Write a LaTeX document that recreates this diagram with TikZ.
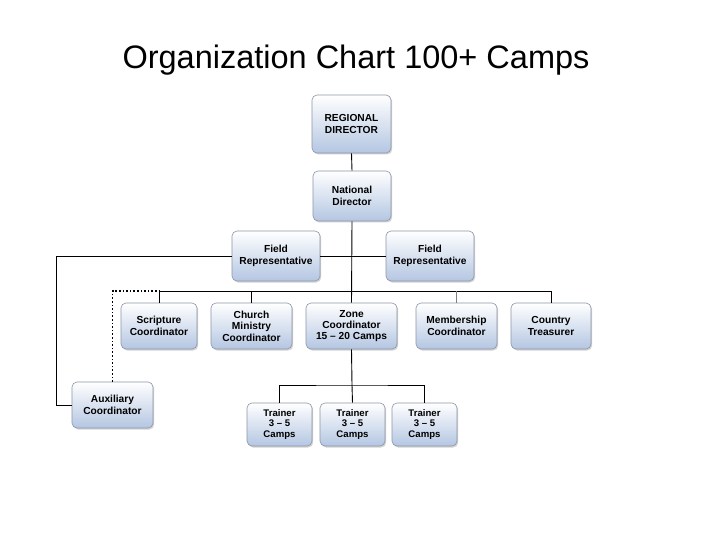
\documentclass[tikz,border=0pt]{standalone}
\usepackage{fontspec}
\setmainfont{Liberation Sans}
\newfontfamily\boxfont[Ligatures=TeX]{Liberation Sans Bold}
\usetikzlibrary{shadows}
\definecolor{boxbot}{RGB}{180,198,226}
\definecolor{boxline}{RGB}{140,150,168}
\tikzset{
  orgbox/.style={draw=boxline, line width=0.6pt, rounded corners=5pt,
    top color=white, bottom color=boxbot, align=center,
    font=\boxfont\fontsize{10.2}{11.4}\selectfont, inner sep=1pt,
    drop shadow={opacity=0.35, shadow xshift=1.2pt, shadow yshift=-1.5pt}},
  conn/.style={line width=0.9pt, black},
  dotconn/.style={line width=1.6pt, black, dotted}
}
\begin{document}
\begin{tikzpicture}[x=1pt,y=-1pt]
\useasboundingbox[fill=white] (0,0) rectangle (720,540);
\node[font=\fontsize{32.5}{36}\selectfont] (title) at (356,60) {Organization Chart 100+ Camps};

\node[orgbox, minimum width=79pt, minimum height=58pt] (rd) at (351.5,124) {REGIONAL\\DIRECTOR};
\node[orgbox, minimum width=78pt, minimum height=50pt] (nd) at (352,196) {National\\Director};
\node[orgbox, minimum width=88pt, minimum height=50pt] (frl) at (276,256) {Field\\Representative};
\node[orgbox, minimum width=88pt, minimum height=50pt] (frr) at (430,256) {Field\\Representative};
\node[orgbox, minimum width=76pt, minimum height=46pt] (sc) at (159,326) {Scripture\\Coordinator};
\node[orgbox, minimum width=81pt, minimum height=46pt] (cm) at (251.5,326) {Church\\Ministry\\Coordinator};
\node[orgbox, minimum width=91pt, minimum height=46pt] (zc) at (351.5,326) {Zone\\Coordinator\\15 – 20 Camps};
\node[orgbox, minimum width=81pt, minimum height=46pt] (mc) at (456.5,326) {Membership\\Coordinator};
\node[orgbox, minimum width=80pt, minimum height=46pt] (ct) at (551,326) {Country\\Treasurer};
\node[orgbox, minimum width=81pt, minimum height=46pt] (ac) at (112.5,405) {Auxiliary\\Coordinator};
\node[orgbox, minimum width=65pt, minimum height=43pt, font=\boxfont\fontsize{9.6}{10.6}\selectfont] (t1) at (279.5,424.5) {Trainer\\3 – 5\\Camps};
\node[orgbox, minimum width=65pt, minimum height=43pt, font=\boxfont\fontsize{9.6}{10.6}\selectfont] (t2) at (352.5,424.5) {Trainer\\3 – 5\\Camps};
\node[orgbox, minimum width=65pt, minimum height=43pt, font=\boxfont\fontsize{9.6}{10.6}\selectfont] (t3) at (424.5,424.5) {Trainer\\3 – 5\\Camps};

\coordinate (bus) at (352,291);
\coordinate (tbus) at (352,385);
\coordinate (lft) at (56,256);

\draw[conn] (rd.south) -- (nd.north);
\draw[conn] (nd.south) -- (zc.north);
\draw[conn] (frl.east) -- (frl.east -| nd.south);
\draw[conn] (frr.west) -- (frr.west -| nd.south);
\draw[conn] (sc.north) |- (bus -| ct.north) -- (ct.north);
\draw[conn] (cm.north) -- (cm.north |- bus);
\draw[conn, gray] (mc.north) -- (mc.north |- bus);
\draw[conn] (frl.west) -- (lft) |- (ac.west);
\draw[dotconn] (ac.north) |- (sc.north |- bus);
\draw[conn] (zc.south) -- (tbus);
\draw[conn] (t1.north) |- (tbus) -| (t3.north);
\draw[conn] (tbus) -- (t2.north);
\end{tikzpicture}
\end{document}
